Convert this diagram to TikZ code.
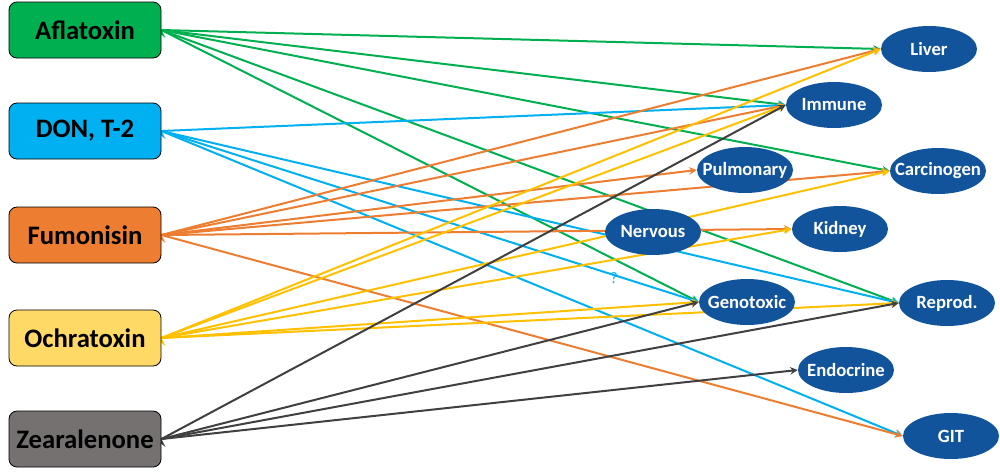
\documentclass[tikz,border=0pt]{standalone}
\usepackage{fontspec}
\setmainfont{Carlito}
\usepackage{tikz}
\usetikzlibrary{arrows,%
		backgrounds,%
		positioning,%
		shapes,%
		shapes.geometric}
\definecolor{verde}{RGB}{0,176,80}
\definecolor{azzurro}{RGB}{0,176,240}
\definecolor{arancio}{RGB}{237,125,49}
\definecolor{giallo}{RGB}{255,217,102}
\definecolor{giallino}{RGB}{255,192,0}
\definecolor{grigio}{RGB}{118,113,113}
\definecolor{scuro}{RGB}{64,64,64}
\definecolor{blu}{RGB}{17,84,155}

\begin{document}
\begin{tikzpicture}[x=0.75pt,y=-0.75pt,
	tossina/.style={draw=black,line width=0.6pt,rounded corners=6pt,minimum width=114pt,minimum height=42pt,font=\fontsize{20}{23}\selectfont\bfseries},
	effetto/.style={ellipse,fill=blu,text=white,minimum width=72pt,minimum height=34.5pt,inner xsep=-9pt,inner ysep=0pt,font=\fontsize{14}{16}\selectfont\bfseries},
	freccia/.style={-stealth,line width=1.5pt}]
\useasboundingbox (0,0) rectangle (1000,472);
%Micotossine
\node[tossina,fill=verde] (Afl) at (85,30) {Aflatoxin};
\node[tossina,fill=azzurro] (Don) at (85,131) {DON, T-2};
\node[tossina,fill=arancio] (Fum) at (85,235) {Fumonisin};
\node[tossina,fill=giallo] (Och) at (85,338) {Ochratoxin};
\node[tossina,fill=grigio] (Zea) at (85,439) {Zearalenone};
%Effetti
\node[effetto] (Liv) at (929,49) {Liver};
\node[effetto] (Imm) at (834,105) {Immune};
\node[effetto] (Pul) at (745,170) {Pulmonary};
\node[effetto] (Car) at (938,171) {Carcinogen};
\node[effetto] (Ner) at (653,232) {Nervous};
\node[effetto] (Kid) at (840,229) {Kidney};
\node[effetto] (Gen) at (747,302) {Genotoxic};
\node[effetto] (Rep) at (947,303) {Reprod.};
\node[effetto] (End) at (846,370) {Endocrine};
\node[effetto] (Git) at (951,436) {GIT};
\node[text=azzurro,font=\fontsize{12}{13}\selectfont] (q) at (614,278) {?};
\begin{scope}[on background layer]
\draw[freccia,verde] (Afl.east) edge (Liv.west) edge (Imm.west) edge (Car.west) edge (Gen.west) edge (Rep.west);
\draw[freccia,azzurro] (Don.east) edge (Imm.west) edge (Gen.west) edge (Rep.west) edge (Git.west);
\draw[freccia,arancio] (Fum.east) edge (Liv.west) edge (Imm.west) edge (Pul.west) edge (Car.west) edge (Kid.west) edge (Git.west);
\draw[freccia,giallino] (Och.east) edge (Liv.west) edge (Imm.west) edge (Car.west) edge (Kid.west) edge (Gen.west) edge (Rep.west);
\draw[freccia,scuro] (Zea.east) edge (Imm.west) edge (Gen.west) edge (Rep.west) edge (End.west);
\end{scope}
\end{tikzpicture}
\end{document}
